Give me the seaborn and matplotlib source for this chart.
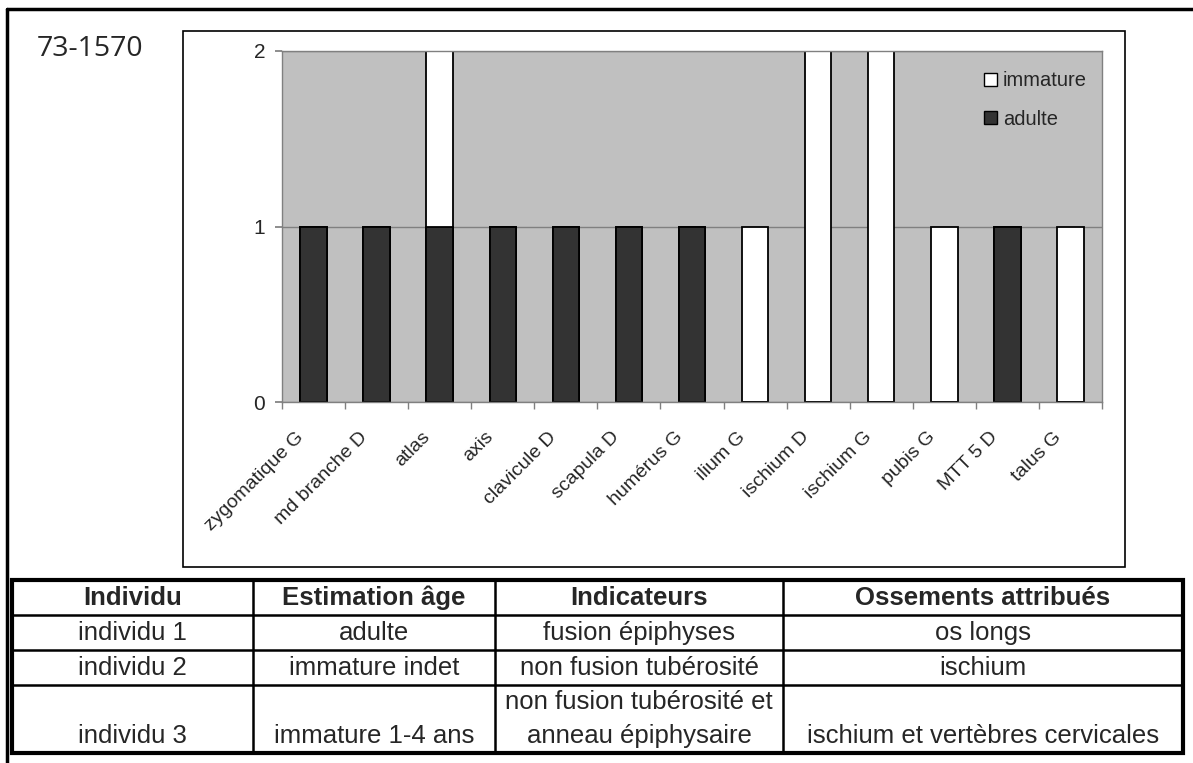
import numpy as np
import pandas as pd
import matplotlib
matplotlib.use("Agg")
import matplotlib.pyplot as plt
import seaborn as sns
from matplotlib.patches import Rectangle, Patch
from matplotlib.lines import Line2D
from matplotlib.transforms import Affine2D

# ---------------- data ----------------
categories = ["zygomatique G", "md branche D", "atlas", "axis", "clavicule D",
              "scapula D", "humérus G", "ilium G", "ischium D", "ischium G",
              "pubis G", "MTT 5 D", "talus G"]
adulte = [1, 1, 1, 1, 1, 1, 1, 0, 0, 0, 0, 1, 0]
immature = [0, 0, 1, 0, 0, 0, 0, 1, 2, 2, 1, 0, 1]
y_ticks = [0, 1, 2]
series_names = ["immature", "adulte"]
title_text = "73-1570"
table_header = ["Individu", "Estimation âge", "Indicateurs", "Ossements attribués"]
table_row1 = ["individu 1", "adulte", "fusion épiphyses", "os longs"]
table_row2 = ["individu 2", "immature indet", "non fusion tubérosité", "ischium"]
table_row3 = ["individu 3", "immature 1-4 ans", "non fusion tubérosité et\nanneau épiphysaire",
              "ischium et vertèbres cervicales"]

# ---------------- style ----------------
sns.set_theme(style="white")
plt.rcParams['font.family'] = ['Liberation Sans', 'DejaVu Sans']

W, H = 1193, 763
fig = plt.figure(figsize=(W / 100, H / 100), dpi=100)
fig.patch.set_facecolor("white")


def fx(px):
    return px / W


def fy(py):
    return 1 - py / H


# outer border (top and left visible)
fig.add_artist(Line2D([fx(7), fx(7)], [fy(9), 0], color="black", lw=2.5))
fig.add_artist(Line2D([fx(7), 1], [fy(9), fy(9)], color="black", lw=2.5))

# chart box
fig.add_artist(Rectangle((fx(183), fy(567)), fx(1125) - fx(183), fy(31) - fy(567),
                         fill=False, ec="black", lw=1.2))

fig.text(fx(37), fy(49), title_text, fontsize=20.5, family=["Open Sans", "DejaVu Sans"],
         ha="left", va="center")

# ---------------- chart ----------------
ax = fig.add_axes([fx(282), fy(402), fx(1102) - fx(282), fy(51) - fy(402)])
df = pd.DataFrame({"os": categories, "adulte": adulte, "immature": immature})
df["total"] = df["adulte"] + df["immature"]

sns.barplot(data=df, x="os", y="total", color="white", edgecolor="black",
            linewidth=1.3, width=0.42, saturation=1, ax=ax, order=categories)
sns.barplot(data=df, x="os", y="adulte", color="#333333", edgecolor="black",
            linewidth=1.3, width=0.42, saturation=1, ax=ax, order=categories)

ax.set_facecolor("#C0C0C0")
ax.set_xlim(-0.5, len(categories) - 0.5)
ax.set_ylim(0, 2)
ax.set_yticks(y_ticks)
ax.set_yticklabels([str(v) for v in y_ticks])
ax.set_axisbelow(True)
ax.yaxis.grid(True, color="#808080", lw=1)
ax.xaxis.grid(False)
for s in ax.spines.values():
    s.set_color("#808080")
    s.set_linewidth(1)
ax.set_xlabel("")
ax.set_ylabel("")
ax.tick_params(axis="y", length=5, color="#808080", labelsize=15, pad=7,
               direction="out", left=True)
ax.set_xticks(range(len(categories)))
ax.set_xticklabels(categories, rotation=45, ha="right", rotation_mode="anchor", fontsize=14)
ax.tick_params(axis="x", which="major", length=0, pad=9, bottom=True)
for lab in ax.get_xticklabels():
    lab.set_transform(lab.get_transform() + Affine2D().translate(-18, -14))
ax.set_xticks(np.arange(-0.5, len(categories), 1), minor=True)
ax.tick_params(axis="x", which="minor", length=5, color="#808080", bottom=True, direction="out")

handles = [Patch(facecolor="white", edgecolor="black", label=series_names[0]),
           Patch(facecolor="#333333", edgecolor="black", label=series_names[1])]
ax.legend(handles=handles, loc="upper right", bbox_to_anchor=(1.0, 0.985), frameon=False,
          fontsize=14.5, handlelength=0.65, handleheight=0.65, handletextpad=0.3,
          labelspacing=0.95, borderaxespad=0.35, borderpad=0.4)

# ---------------- table ----------------
col_edges = [12, 253, 495, 783, 1183]
row_edges = [580, 615, 650, 685, 753]
tab = fig.add_axes([fx(col_edges[0]), fy(row_edges[-1]),
                    fx(col_edges[-1]) - fx(col_edges[0]), fy(row_edges[0]) - fy(row_edges[-1])])
tab.set_xlim(col_edges[0], col_edges[-1])
tab.set_ylim(row_edges[-1], row_edges[0])
tab.axis("off")
for ye in row_edges[1:-1]:
    tab.plot([col_edges[0], col_edges[-1]], [ye, ye], color="black", lw=1.8, clip_on=False)
for xe in col_edges[1:-1]:
    tab.plot([xe, xe], [row_edges[0], row_edges[-1]], color="black", lw=1.8, clip_on=False)
tab.add_patch(Rectangle((col_edges[0], row_edges[0]), col_edges[-1] - col_edges[0],
                        row_edges[-1] - row_edges[0], fill=False, ec="black", lw=3, clip_on=False))

body_fs = 18.5
head_fs = 18.5
rows = [table_header, table_row1, table_row2, table_row3]
for r, row in enumerate(rows):
    y0, y1 = row_edges[r], row_edges[r + 1]
    for c, txt in enumerate(row):
        xc = (col_edges[c] + col_edges[c + 1]) / 2
        weight = "bold" if r == 0 else "normal"
        fs = head_fs if r == 0 else body_fs
        if r == 3:
            lines = txt.split("\n")
            if len(lines) == 2:
                tab.text(xc, y0 + (y1 - y0) * 0.25, lines[0], ha="center", va="center",
                         fontsize=fs, weight=weight)
                tab.text(xc, y0 + (y1 - y0) * 0.75, lines[1], ha="center", va="center",
                         fontsize=fs, weight=weight)
            else:
                tab.text(xc, y0 + (y1 - y0) * 0.75, txt, ha="center", va="center",
                         fontsize=fs, weight=weight)
        else:
            tab.text(xc, (y0 + y1) / 2, txt, ha="center", va="center",
                     fontsize=fs, weight=weight)

fig.savefig("out.png", dpi=100)
